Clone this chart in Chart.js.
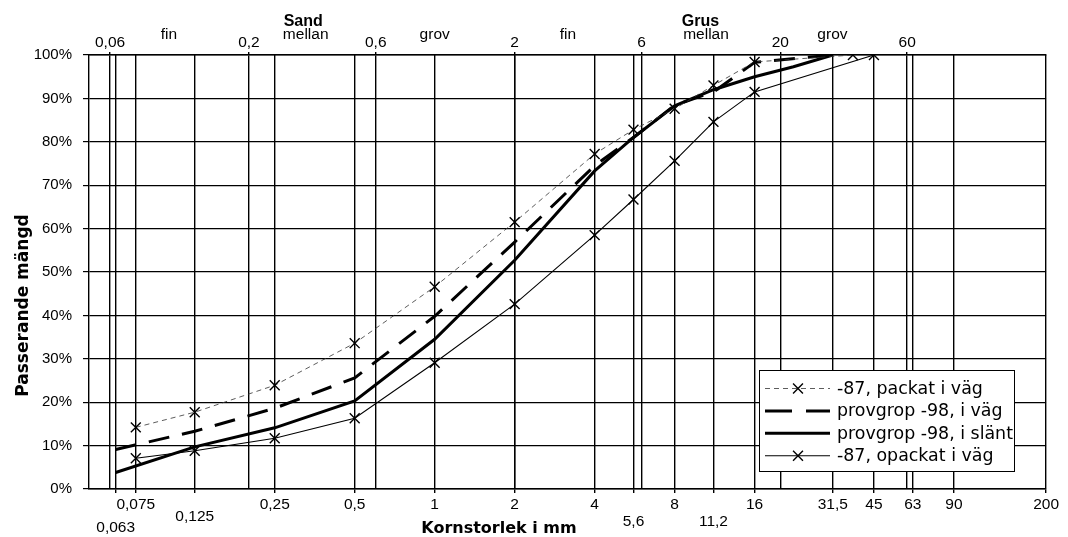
<!DOCTYPE html>
<html>
<head>
<meta charset="utf-8">
<script src="https://cdn.jsdelivr.net/npm/chart.js@4/dist/chart.umd.min.js"></script>
<style>
html,body{margin:0;padding:0;background:#fff;}
#c{display:block;}
</style>
</head>
<body>
<canvas id="c" width="1068" height="537"></canvas>
<script>
// ---- data (grain size in mm, passing %) ----
const seriesLabels = ['-87, packat i väg', 'provgrop -98, i väg', 'provgrop -98, i slänt', '-87, opackat i väg'];

const packatX  = [0.075, 0.125, 0.25, 0.5, 1, 2, 4, 5.6, 8, 11.2, 16, 37.5];
const packatY  = [14.2, 17.7, 23.9, 33.6, 46.6, 61.5, 77.2, 82.8, 87.6, 93.0, 98.4, 100];

const ivagX    = [0.063, 0.125, 0.25, 0.5, 1, 2, 4, 5.6, 8, 11.2, 16, 31.5];
const ivagY    = [9.1, 13.3, 18.6, 25.6, 39.8, 56.9, 74.5, 81.0, 88.4, 91.5, 98.3, 100];

const slantX   = [0.063, 0.125, 0.25, 0.5, 1, 2, 4, 5.6, 8, 11.2, 16, 22.4, 31.5];
const slantY   = [3.8, 9.7, 14.1, 20.3, 34.5, 52.7, 73.3, 81.0, 88.3, 92.0, 95.0, 97.3, 100];

const opackatX = [0.075, 0.125, 0.25, 0.5, 1, 2, 4, 5.6, 8, 11.2, 16, 45];
const opackatY = [7.1, 8.8, 11.7, 16.3, 29.1, 42.6, 58.5, 66.7, 75.6, 84.6, 91.5, 100];

// axis ticks
const bottomTicks   = [0.063, 0.075, 0.125, 0.25, 0.5, 1, 2, 4, 5.6, 8, 11.2, 16, 31.5, 45, 63, 90, 200];
const bottomTickRow = [4, 0, 2, 0, 0, 0, 0, 0, 3, 0, 3, 0, 0, 0, 0, 0, 0];
const topTicks      = [0.06, 0.2, 0.6, 2, 6, 20, 60];
const xMin = 0.05, xMax = 200;

// soil classification labels (name, grain size where it sits)
const classNames  = ['fin', 'mellan', 'grov', 'fin', 'mellan', 'grov'];
const classAt     = [0.1, 0.327, 1.0, 3.17, 10.5, 31.4];
const groupNames  = ['Sand', 'Grus'];
const groupAt     = [0.32, 10.0];

const xTitle = 'Kornstorlek i mm';
const yTitle = 'Passerande mängd';

// ---- helpers ----
const fmt = v => String(v).replace('.', ',');
const pts = (xs, ys) => xs.map((x, i) => ({x: x, y: ys[i]}));
const SANS = "'Liberation Sans', Arial, sans-serif";
const WIDE = "'DejaVu Sans', sans-serif";

const extraText = {
  id: 'extraText',
  afterDraw(chart) {
    const ctx = chart.ctx;
    const top = chart.scales.xTop;
    ctx.save();
    ctx.fillStyle = '#000';
    ctx.textAlign = 'center';
    ctx.textBaseline = 'alphabetic';
    ctx.font = '15.5px ' + SANS;
    classNames.forEach((t, i) => ctx.fillText(t, top.getPixelForValue(classAt[i]), 38.5));
    ctx.font = 'bold 16px ' + SANS;
    groupNames.forEach((t, i) => ctx.fillText(t, top.getPixelForValue(groupAt[i]), 26));
    // axis titles
    ctx.font = 'bold 16px ' + WIDE;
    ctx.fillText(xTitle, 499, 533);
    ctx.save();
    ctx.translate(27.5, 305.5);
    ctx.rotate(-Math.PI / 2);
    ctx.font = 'bold 17px ' + WIDE;
    ctx.fillText(yTitle, 0, 0);
    ctx.restore();
    ctx.restore();
  }
};

const boxLegend = {
  id: 'boxLegend',
  afterDraw(chart) {
    const ctx = chart.ctx;
    const L = 759.5, T = 370.5, W = 255, H = 101;
    ctx.save();
    ctx.fillStyle = '#fff';
    ctx.fillRect(L, T, W, H);
    ctx.strokeStyle = '#000';
    ctx.lineWidth = 1;
    ctx.setLineDash([]);
    ctx.strokeRect(L, T, W, H);
    ctx.font = '17.4px ' + WIDE;
    ctx.textBaseline = 'middle';
    ctx.textAlign = 'left';
    chart.data.datasets.forEach((ds, i) => {
      const y = 388.5 + i * 22.4;
      const x0 = 765, x1 = 830;
      ctx.save();
      ctx.strokeStyle = ds.borderColor;
      ctx.lineWidth = ds.borderWidth;
      const dash = ds.borderDash || [];
      ctx.setLineDash(dash.length && ds.borderWidth > 2 ? [27, 14] : dash);
      ctx.beginPath();
      ctx.moveTo(x0, y);
      ctx.lineTo(x1, y);
      ctx.stroke();
      ctx.restore();
      if (ds.pointRadius > 0) {
        ctx.save();
        ctx.strokeStyle = ds.pointBorderColor;
        ctx.lineWidth = ds.pointBorderWidth;
        ctx.setLineDash([]);
        Chart.helpers.drawPoint(ctx, {pointStyle: ds.pointStyle, radius: ds.pointRadius, rotation: 0, borderWidth: ds.pointBorderWidth}, 798, y);
        ctx.restore();
      }
      ctx.fillStyle = '#000';
      ctx.fillText(ds.label, 837, y + 1);
    });
    ctx.restore();
  }
};

new Chart(document.getElementById('c'), {
  type: 'line',
  data: {
    datasets: [
      {label: seriesLabels[0], data: pts(packatX, packatY), borderColor: '#333', borderWidth: 0.8, borderDash: [5, 4],
       pointStyle: 'crossRot', pointRadius: 7, pointBorderColor: '#000', pointBorderWidth: 1.4, pointBackgroundColor: '#000', tension: 0, fill: false},
      {label: seriesLabels[1], data: pts(ivagX, ivagY), borderColor: '#000', borderWidth: 3, borderDash: [21, 13],
       pointRadius: 0, tension: 0, fill: false},
      {label: seriesLabels[2], data: pts(slantX, slantY), borderColor: '#000', borderWidth: 3,
       pointRadius: 0, tension: 0, fill: false},
      {label: seriesLabels[3], data: pts(opackatX, opackatY), borderColor: '#000', borderWidth: 1.1,
       pointStyle: 'crossRot', pointRadius: 7, pointBorderColor: '#000', pointBorderWidth: 1.4, pointBackgroundColor: '#000', tension: 0, fill: false}
    ]
  },
  options: {
    responsive: false,
    animation: false,
    devicePixelRatio: 1,
    layout: {padding: {left: 0, right: 20, top: 0, bottom: 0}},
    plugins: {legend: {display: false}, tooltip: {enabled: false}},
    scales: {
      x: {
        type: 'logarithmic', position: 'bottom', min: xMin, max: xMax,
        afterBuildTicks: s => { s.ticks = bottomTicks.map(v => ({value: v})); },
        afterFit: s => { s.height = 48; },
        ticks: {
          autoSkip: false, maxRotation: 0, minRotation: 0, color: '#000', padding: 9,
          font: {family: SANS, size: 15.5, lineHeight: 0.37},
          callback: (v) => {
            const k = bottomTicks.indexOf(v);
            const r = k >= 0 ? bottomTickRow[k] : 0;
            return r ? Array(r).fill('').concat([fmt(v)]) : fmt(v);
          }
        },
        grid: {color: '#000', lineWidth: 1.4, tickLength: 4},
        border: {display: true, color: '#000', width: 1.4}
      },
      xTop: {
        type: 'logarithmic', position: 'top', min: xMin, max: xMax,
        afterBuildTicks: s => { s.ticks = topTicks.map(v => ({value: v})); },
        afterFit: s => { s.height = 55; },
        ticks: {autoSkip: false, maxRotation: 0, minRotation: 0, color: '#000', padding: 0,
                font: {family: SANS, size: 15.5}, callback: v => fmt(v)},
        grid: {color: '#000', lineWidth: 1.4, tickLength: 3},
        border: {display: true, color: '#000', width: 1.4}
      },
      y: {
        min: 0, max: 100,
        afterFit: s => { s.width = 89; },
        ticks: {stepSize: 10, color: '#000', padding: 11, font: {family: SANS, size: 15},
                callback: v => v + '%'},
        grid: {color: '#000', lineWidth: 1.2, tickLength: 6},
        border: {display: true, color: '#000', width: 1.4}
      }
    }
  },
  plugins: [extraText, boxLegend]
});
</script>
</body>
</html>
